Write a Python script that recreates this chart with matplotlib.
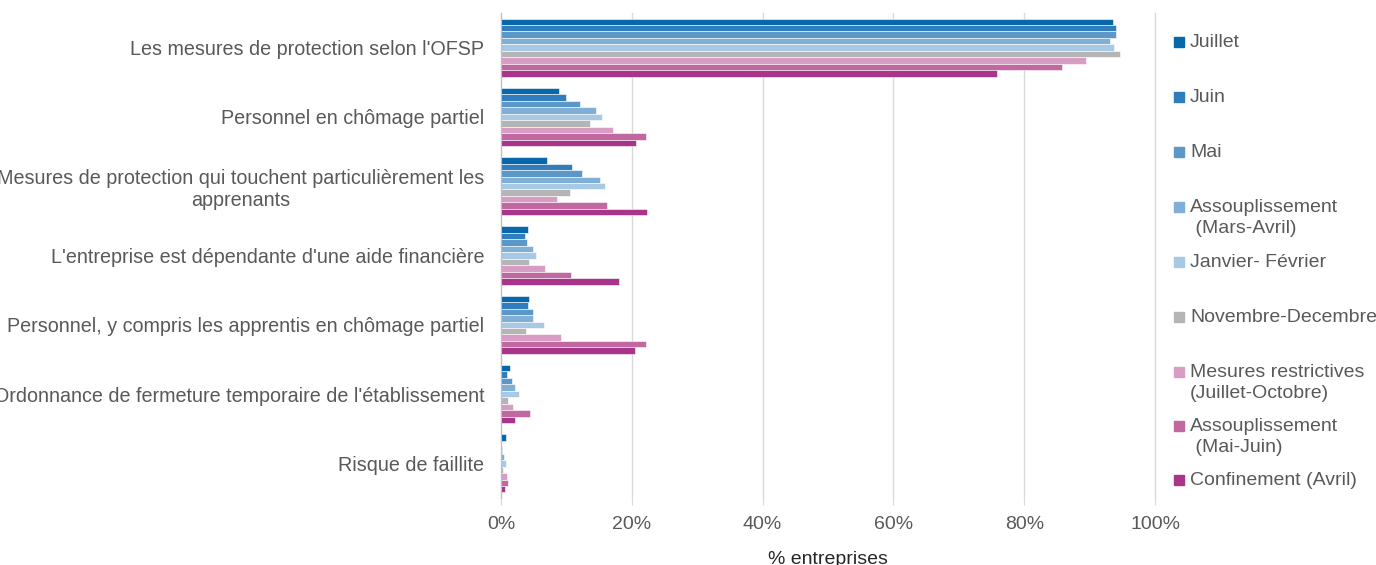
import numpy as np
import matplotlib
matplotlib.use("Agg")
import matplotlib.pyplot as plt
from matplotlib.patches import Rectangle

plt.rcParams['font.family'] = ['Liberation Sans', 'DejaVu Sans']

# Categories, top to bottom
categories = [
    "Les mesures de protection selon l'OFSP",
    "Personnel en chômage partiel",
    "Mesures de protection qui touchent particulièrement les\napprenants",
    "L'entreprise est dépendante d'une aide financière",
    "Personnel, y compris les apprentis en chômage partiel",
    "Ordonnance de fermeture temporaire de l'établissement",
    "Risque de faillite",
]

# Series, in legend order (top bar to bottom bar within each group)
series = [
    "Juillet", "Juin", "Mai", "Assouplissement\n (Mars-Avril)", "Janvier- Février",
    "Novembre-Decembre", "Mesures restrictives\n(Juillet-Octobre)",
    "Assouplissement\n (Mai-Juin)", "Confinement (Avril)",
]
colors = ["#0866ab", "#2f7dbd", "#5b97c7", "#7faed6", "#a8c9e4",
          "#b5b5b5", "#d89dc4", "#c0689f", "#a8358a"]

# % entreprises, one list per series (values by category)
juillet = [93.6, 8.8, 7.1, 4.2, 4.3, 1.3, 0.7]
juin = [94.1, 9.9, 10.9, 3.6, 4.1, 0.9, 0.0]
mai = [94.0, 12.1, 12.4, 3.9, 4.9, 1.7, 0.2]
assoup_mars_avril = [93.1, 14.5, 15.2, 4.9, 4.9, 2.1, 0.4]
janv_fev = [93.8, 15.5, 15.9, 5.4, 6.6, 2.7, 0.7]
nov_dec = [94.6, 13.6, 10.6, 4.3, 3.8, 1.0, 0.25]
mesures_restr = [89.4, 17.2, 8.5, 6.8, 9.2, 1.8, 0.9]
assoup_mai_juin = [85.8, 22.1, 16.2, 10.7, 22.1, 4.4, 1.1]
confinement = [75.8, 20.6, 22.4, 18.0, 20.5, 2.2, 0.55]

values = [juillet, juin, mai, assoup_mars_avril, janv_fev, nov_dec,
          mesures_restr, assoup_mai_juin, confinement]

fig = plt.figure(figsize=(13.76, 5.65), dpi=100)
ax = fig.add_axes([501 / 1376, 1 - 498 / 565, 654 / 1376, 485 / 565])

n_cat = len(categories)
n_ser = len(series)
y = np.arange(n_cat)
bar_h = 0.84 / n_ser
for i, (vals, col) in enumerate(zip(values, colors)):
    offset = -0.42 + bar_h * (i + 0.5)
    ax.barh(y + offset, vals, height=bar_h, color=col,
            edgecolor='white', linewidth=0.4, zorder=3)

ax.set_ylim(n_cat - 0.5, -0.5)
ax.set_xlim(0, 100)
ax.set_xticks(np.arange(0, 101, 20))
ax.set_xticklabels([f"{v}%" for v in range(0, 101, 20)])
ax.set_yticks(y)
ax.set_yticklabels(categories)
for lab in ax.get_yticklabels():
    lab.set_multialignment('center')

ax.tick_params(axis='y', length=0, pad=12, labelsize=14.2, labelcolor='#595959')
ax.tick_params(axis='x', length=5, color='#d9d9d9', pad=8, labelsize=14,
               labelcolor='#595959')
ax.grid(axis='x', color='#d9d9d9', linewidth=1, zorder=0)
for gl in ax.get_xgridlines():
    gl.set_clip_on(False)
for s in ['top', 'right', 'bottom']:
    ax.spines[s].set_visible(False)
ax.spines['left'].set_color('#bfbfbf')
ax.spines['left'].set_zorder(4)

ax.set_xlabel("% entreprises", fontsize=14, color='#262626', labelpad=13)

# Legend drawn on the right, one entry per series
leg_y = [42, 97, 152, 207, 262, 317, 372, 426, 480]
for lab, col, yy in zip(series, colors, leg_y):
    fig.patches.append(Rectangle((1174 / 1376, 1 - (yy + 5) / 565), 10 / 1376, 10 / 565,
                                 transform=fig.transFigure, color=col))
    fig.text(1190 / 1376, 1 - (yy - 8) / 565, lab, fontsize=14, color='#595959',
             va='top', ha='left', linespacing=1.3)

fig.savefig("out.png", dpi=100)
